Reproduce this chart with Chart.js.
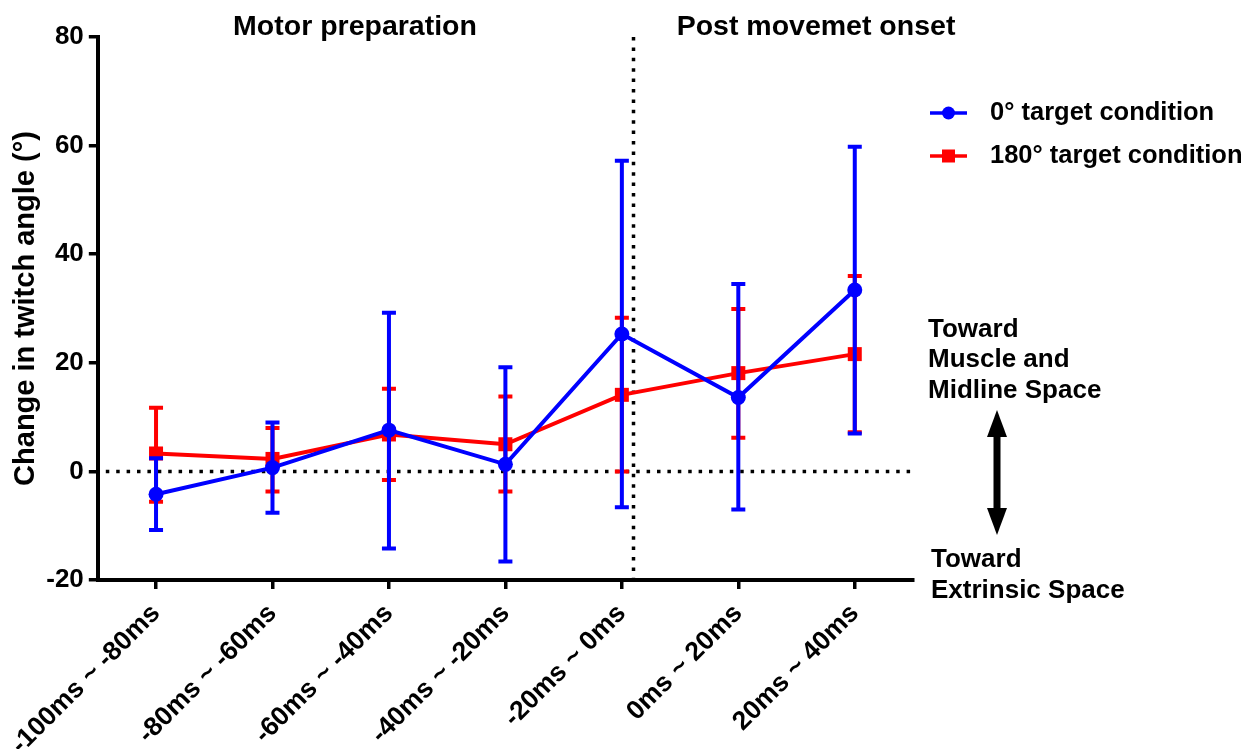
<!DOCTYPE html>
<html>
<head>
<meta charset="utf-8">
<script src="https://cdn.jsdelivr.net/npm/chart.js@4.4.1/dist/chart.umd.min.js"></script>
<style>
  html, body { margin: 0; padding: 0; background: #fff; }
  #wrap { width: 1254px; height: 749px; position: relative; }
</style>
</head>
<body>
<div id="wrap"><canvas id="chart" width="1254" height="749"></canvas></div>
<script>
const timeBins = ["-100ms ~ -80ms", "-80ms ~ -60ms", "-60ms ~ -40ms", "-40ms ~ -20ms", "-20ms ~ 0ms", "0ms ~ 20ms", "20ms ~ 40ms"];

// 0 deg target (blue)
const target0Mean  = [-4.2, 0.7, 7.6, 1.3, 25.3, 13.6, 33.4];
const target0Upper = [2.4, 9.0, 29.2, 19.2, 57.2, 34.5, 59.8];
const target0Lower = [-10.8, -7.6, -14.2, -16.6, -6.6, -7.0, 7.0];

// 180 deg target (red)
const target180Mean  = [3.3, 2.3, 6.8, 5.0, 14.1, 18.1, 21.6];
const target180Upper = [11.7, 8.0, 15.2, 13.8, 28.3, 29.9, 36.0];
const target180Lower = [-5.6, -3.7, -1.6, -3.7, 0.0, 6.2, 7.2];

const yTickMin = -20;
const yTickMax = 80;
const yTickStep = 20;
const onsetIndex = 4.1; // movement onset, between "-20ms ~ 0ms" and "0ms ~ 20ms"

const FONT = "'Liberation Sans', Arial, sans-serif";
const BLUE = "#0000ff";
const RED = "#ff0000";

// error bars drawn under each dataset
const errorBars = {
  id: "errorBars",
  beforeDatasetDraw(chart, args) {
    const ds = chart.data.datasets[args.index];
    if (!ds.errUpper) return;
    const x = chart.scales.x, y = chart.scales.y;
    const ctx = chart.ctx;
    ctx.save();
    ctx.strokeStyle = ds.borderColor;
    ctx.lineWidth = 4;
    ds.data.forEach((v, i) => {
      const px = x.getPixelForValue(i);
      const top = y.getPixelForValue(ds.errUpper[i]);
      const bot = y.getPixelForValue(ds.errLower[i]);
      ctx.beginPath();
      ctx.moveTo(px, top); ctx.lineTo(px, bot);
      ctx.moveTo(px - 7, top); ctx.lineTo(px + 7, top);
      ctx.moveTo(px - 7, bot); ctx.lineTo(px + 7, bot);
      ctx.stroke();
    });
    ctx.restore();
  }
};

// dotted zero line and onset line
const refLines = {
  id: "refLines",
  beforeDatasetsDraw(chart) {
    const {ctx, chartArea} = chart;
    const x = chart.scales.x, y = chart.scales.y;
    const y0 = y.getPixelForValue(0);
    const x4 = x.getPixelForValue(Math.floor(onsetIndex));
    const x5 = x.getPixelForValue(Math.floor(onsetIndex) + 1);
    const xOn = x4 + (onsetIndex - Math.floor(onsetIndex)) * (x5 - x4);
    ctx.save();
    ctx.strokeStyle = "#000";
    ctx.lineWidth = 3.5;
    ctx.setLineDash([3.5, 6.9]);
    ctx.beginPath();
    ctx.moveTo(chartArea.left + 8, y0); ctx.lineTo(chartArea.right, y0);
    ctx.stroke();
    ctx.beginPath();
    ctx.moveTo(xOn, chartArea.top); ctx.lineTo(xOn, chartArea.bottom);
    ctx.stroke();
    ctx.restore();
  }
};

// headers, legend, direction annotation
const extras = {
  id: "extras",
  afterDraw(chart) {
    const ctx = chart.ctx;
    ctx.save();
    ctx.fillStyle = "#000";
    ctx.textBaseline = "middle";
    ctx.textAlign = "center";
    ctx.font = "bold 28.5px " + FONT;
    ctx.fillText("Motor preparation", 355, 27);
    ctx.fillText("Post movemet onset", 816, 27);

    // legend
    const items = [
      {label: "0\u00b0 target condition", color: BLUE, shape: "circle", y: 113},
      {label: "180\u00b0 target condition", color: RED, shape: "rect", y: 156}
    ];
    items.forEach(it => {
      ctx.strokeStyle = it.color;
      ctx.fillStyle = it.color;
      ctx.lineWidth = 3.5;
      ctx.beginPath();
      ctx.moveTo(930, it.y); ctx.lineTo(967, it.y);
      ctx.stroke();
      ctx.beginPath();
      if (it.shape === "circle") ctx.arc(948.5, it.y, 6.5, 0, Math.PI * 2);
      else ctx.rect(942, it.y - 6.5, 13, 13);
      ctx.fill();
      ctx.fillStyle = "#000";
      ctx.textAlign = "left";
      ctx.font = "bold 25.5px " + FONT;
      ctx.fillText(it.label, 990, it.y);
    });

    // annotation
    ctx.font = "bold 26px " + FONT;
    ctx.textAlign = "left";
    ctx.fillText("Toward", 928, 330);
    ctx.fillText("Muscle and", 928, 360);
    ctx.fillText("Midline Space", 928, 391);
    ctx.fillText("Toward", 931, 560);
    ctx.fillText("Extrinsic Space", 931, 591);

    // double arrow
    const ax = 997, top = 410, bot = 535;
    ctx.fillStyle = "#000";
    ctx.fillRect(ax - 3.5, top + 24, 7, bot - top - 48);
    ctx.beginPath();
    ctx.moveTo(ax, top); ctx.lineTo(ax + 10, top + 27); ctx.lineTo(ax - 10, top + 27);
    ctx.closePath(); ctx.fill();
    ctx.beginPath();
    ctx.moveTo(ax, bot); ctx.lineTo(ax + 10, bot - 27); ctx.lineTo(ax - 10, bot - 27);
    ctx.closePath(); ctx.fill();
    ctx.restore();
  }
};

new Chart(document.getElementById("chart"), {
  type: "line",
  data: {
    labels: timeBins,
    datasets: [
      {
        label: "0\u00b0 target condition",
        data: target0Mean,
        errUpper: target0Upper,
        errLower: target0Lower,
        borderColor: BLUE,
        backgroundColor: BLUE,
        borderWidth: 4,
        pointStyle: "circle",
        pointRadius: 7.5,
        pointBorderWidth: 0,
        tension: 0
      },
      {
        label: "180\u00b0 target condition",
        data: target180Mean,
        errUpper: target180Upper,
        errLower: target180Lower,
        borderColor: RED,
        backgroundColor: RED,
        borderWidth: 4,
        pointStyle: "rect",
        pointRadius: 9.9,
        pointBorderWidth: 0,
        tension: 0
      }
    ]
  },
  options: {
    responsive: false,
    animation: false,
    layout: { padding: { top: 37, right: 341, bottom: 0, left: 0 } },
    plugins: {
      legend: { display: false },
      tooltip: { enabled: false }
    },
    scales: {
      x: {
        type: "category",
        offset: true,
        afterFit: (s) => { s.height = 169; },
        border: { display: true, color: "#000", width: 4 },
        grid: { display: true, drawOnChartArea: false, drawTicks: true, tickLength: 9, lineWidth: 3.5, color: "#000" },
        ticks: {
          autoSkip: false,
          minRotation: 45,
          maxRotation: 45,
          padding: 9,
          color: "#000",
          font: { family: FONT, size: 26.5, weight: "bold" }
        }
      },
      y: {
        min: yTickMin,
        max: yTickMax,
        afterFit: (s) => { s.width = 97; },
        border: { display: true, color: "#000", width: 4 },
        grid: { display: true, drawOnChartArea: false, drawTicks: true, tickLength: 9, lineWidth: 3.5, color: "#000" },
        ticks: {
          stepSize: yTickStep,
          padding: 5,
          color: "#000",
          font: { family: FONT, size: 26, weight: "bold" }
        },
        title: {
          display: true,
          text: "Change in twitch angle (\u00b0)",
          color: "#000",
          padding: { top: 8, bottom: 0 },
          font: { family: FONT, size: 29, weight: "bold" }
        }
      }
    }
  },
  plugins: [errorBars, refLines, extras]
});
</script>
</body>
</html>
